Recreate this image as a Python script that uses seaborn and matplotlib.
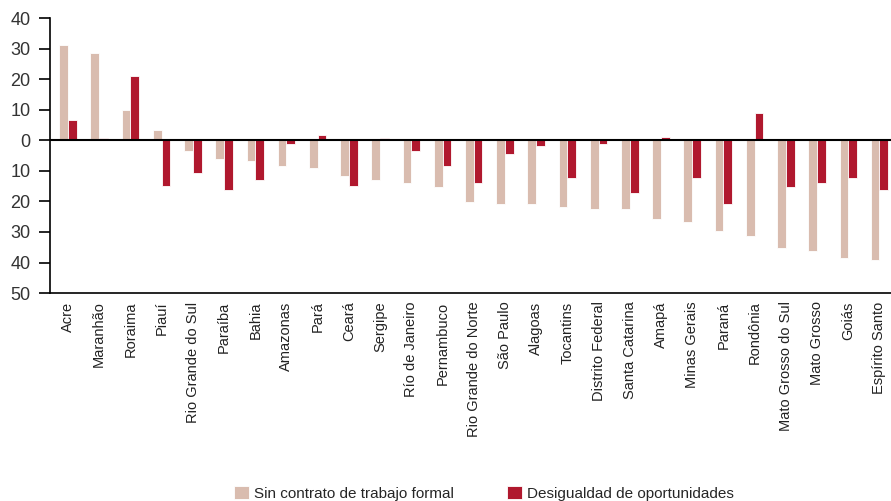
import seaborn as sns
import matplotlib.pyplot as plt
import pandas as pd
import numpy as np
from matplotlib.ticker import FuncFormatter

estados = ['Acre', 'Maranhão', 'Roraima', 'Piauí', 'Rio Grande do Sul', 'Paraíba',
           'Bahia', 'Amazonas', 'Pará', 'Ceará', 'Sergipe', 'Río de Janeiro',
           'Pernambuco', 'Rio Grande do Norte', 'São Paulo', 'Alagoas', 'Tocantins',
           'Distrito Federal', 'Santa Catarina', 'Amapá', 'Minas Gerais', 'Paraná',
           'Rondônia', 'Mato Grosso do Sul', 'Mato Grosso', 'Goiás', 'Espírito Santo']

sin_contrato = [31.1, 28.7, 9.8, 3.5, -3.6, -6.0, -6.8, -8.4, -9.2, -11.6, -13.1, -13.9,
                -15.4, -20.2, -21.0, -21.0, -21.8, -22.6, -22.6, -25.7, -26.6, -29.7,
                -31.3, -35.2, -36.1, -38.4, -39.1]

desigualdad = [6.6, 0.8, 21.0, -14.8, -10.8, -16.3, -13.1, -1.3, 1.8, -14.8, 0.6, -3.6,
               -8.3, -13.9, -4.4, -2.0, -12.3, -1.2, -17.1, 1.1, -12.3, -21.0,
               9.0, -15.4, -13.9, -12.3, -16.3]

serie_1 = 'Sin contrato de trabajo formal'
serie_2 = 'Desigualdad de oportunidades'

df = pd.DataFrame({'estado': estados, serie_1: sin_contrato, serie_2: desigualdad})
df_long = df.melt(id_vars='estado', var_name='serie', value_name='valor')

sns.set_style('white')
plt.rcParams['font.family'] = ['Liberation Sans Narrow', 'Liberation Sans', 'DejaVu Sans']

fig = plt.figure(figsize=(8.91, 5.01), dpi=100)
ax = fig.add_axes([0.056, 0.415, 0.944, 0.549])

sns.barplot(data=df_long, x='estado', y='valor', hue='serie',
            palette=['#D9BCAF', '#B0182E'], saturation=1, width=0.56,
            edgecolor='white', linewidth=0.6, ax=ax)

# zero line over the bars
ax.axhline(0, color='black', lw=1.5, zorder=5)
ax.set_ylim(-50, 40)
ax.set_xlim(-0.58, 26.37)
ax.set_yticks(np.arange(-50, 41, 10))
ax.yaxis.set_major_formatter(FuncFormatter(lambda v, p: f'{abs(int(round(v)))}'))
ax.tick_params(axis='y', direction='out', length=8, width=1.2, color='black',
               labelsize=13, labelcolor='#333333', pad=6, left=True)
ax.tick_params(axis='x', length=0, labelsize=10.5, labelcolor='#222222', pad=6)
plt.setp(ax.get_xticklabels(), rotation=90)

ax.set_xlabel('')
ax.set_ylabel('')
for s in ['top', 'right']:
    ax.spines[s].set_visible(False)
for s in ['left', 'bottom']:
    ax.spines[s].set_color('black')
    ax.spines[s].set_linewidth(1.2)

handles, labels = ax.get_legend_handles_labels()
ax.legend_.remove()
fig.legend(handles, labels, loc='lower center', bbox_to_anchor=(0.543, -0.027),
           ncol=2, frameon=False, fontsize=11, handlelength=1.0, handleheight=1.0,
           handletextpad=0.3, columnspacing=3.5)

fig.savefig('out.png', dpi=100)
